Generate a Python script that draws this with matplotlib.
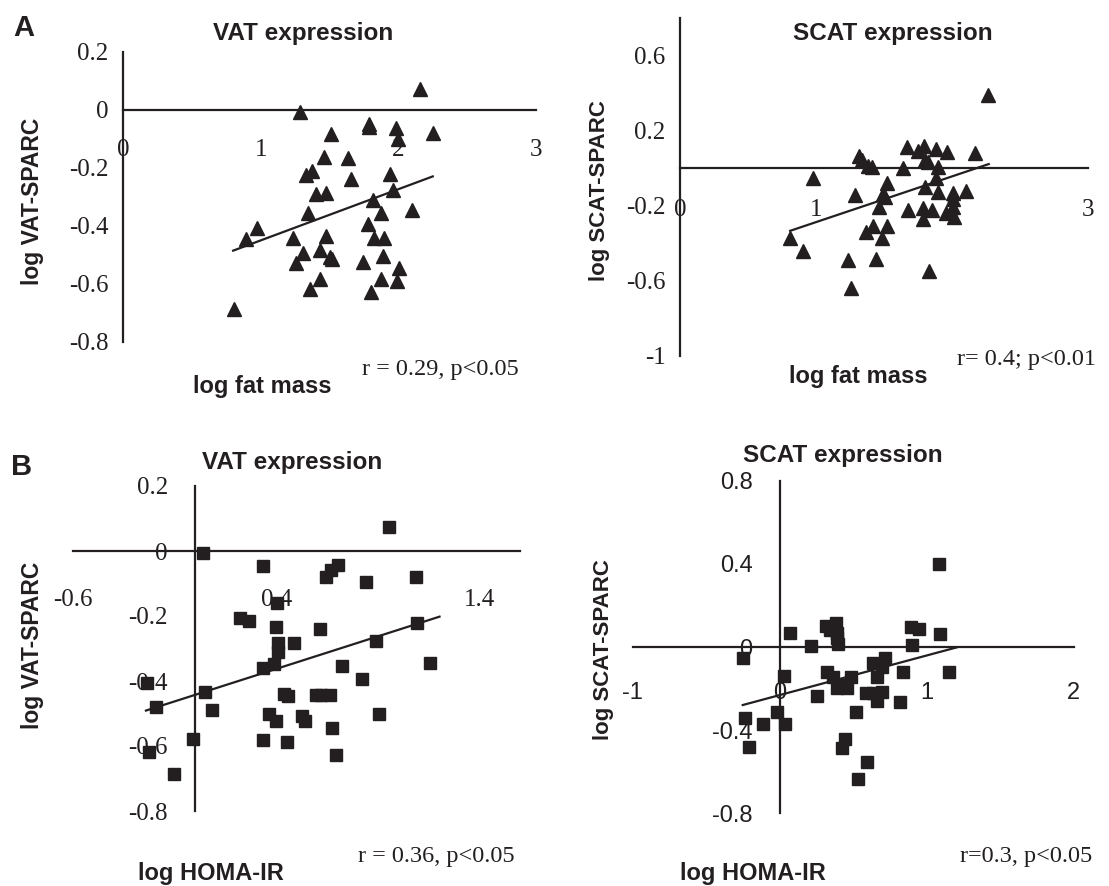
import matplotlib
matplotlib.use('Agg')
import matplotlib.pyplot as plt

INK = '#231f20'
W, H = 1109, 886

# A: log fat mass vs VAT-SPARC
vat_fat_x = [2.157, 1.283, 1.785, 1.785, 1.983, 1.512, 2.249, 2.0, 1.457, 1.635, 1.374, 1.326,
             1.942, 1.657, 1.959, 1.403, 1.476, 1.819, 2.097, 1.341, 1.874, 0.973, 0.896, 1.778,
             1.234, 1.476, 1.826, 1.894, 1.307, 1.428, 1.5, 1.517, 1.254, 1.746, 1.891, 2.007,
             1.428, 1.874, 1.988, 1.360, 1.802, 0.809]
vat_fat_y = [0.072, -0.008, -0.048, -0.057, -0.062, -0.083, -0.081, -0.101, -0.163, -0.167, -0.209,
             -0.224, -0.221, -0.239, -0.275, -0.288, -0.285, -0.310, -0.345, -0.354, -0.356, -0.408,
             -0.445, -0.393, -0.440, -0.436, -0.442, -0.442, -0.492, -0.482, -0.506, -0.515, -0.526,
             -0.523, -0.504, -0.546, -0.583, -0.583, -0.589, -0.618, -0.629, -0.687]
vat_fat_trend_x = [0.80, 2.25]
vat_fat_trend_y = [-0.485, -0.229]

# A: log fat mass vs SCAT-SPARC
scat_fat_x = [2.262, 1.667, 1.794, 1.752, 1.882, 1.966, 2.169, 1.319, 1.336, 1.385, 1.409, 1.642,
              1.801, 1.826, 1.9, 0.975, 1.882, 1.52, 1.804, 1.287, 1.490, 1.507, 1.9, 2.01, 2.103,
              2.005, 1.463, 1.674, 1.789, 1.855, 1.956, 2.01, 2.015, 1.789, 1.421, 1.525, 1.365,
              1.488, 0.809, 0.902, 1.238, 1.439, 1.833, 1.255]
scat_fat_y = [0.39, 0.11, 0.118, 0.092, 0.099, 0.087, 0.082, 0.064, 0.042, 0.01, 0.005, -0.002,
              0.042, 0.033, 0.005, -0.056, -0.056, -0.082, -0.104, -0.145, -0.138, -0.156, -0.129,
              -0.135, -0.125, -0.163, -0.207, -0.225, -0.216, -0.225, -0.239, -0.207, -0.261,
              -0.273, -0.311, -0.311, -0.341, -0.373, -0.371, -0.442, -0.489, -0.483, -0.549, -0.639]
scat_fat_trend_x = [0.81, 2.27]
scat_fat_trend_y = [-0.335, 0.021]

# B: log HOMA-IR vs VAT-SPARC
vat_homa_x = [0.957, 0.041, 0.337, 0.706, 0.670, 0.645, 1.089, 0.842, 0.404, 0.223, 0.264, 0.399,
              0.617, 1.094, 0.407, 0.489, 0.410, 0.892, 0.333, 0.388, 0.723, 1.158, 0.823, -0.238,
              0.049, 0.440, 0.456, 0.596, 0.621, 0.667, -0.192, 0.082, 0.366, 0.399, 0.525, 0.542,
              0.908, 0.673, -0.007, 0.333, 0.452, -0.225, 0.695, -0.102]
vat_homa_y = [0.073, -0.007, -0.045, -0.044, -0.058, -0.081, -0.080, -0.096, -0.159, -0.207, -0.215,
              -0.235, -0.240, -0.221, -0.284, -0.282, -0.310, -0.276, -0.361, -0.348, -0.353, -0.344,
              -0.394, -0.407, -0.433, -0.440, -0.445, -0.443, -0.443, -0.443, -0.481, -0.489, -0.503,
              -0.522, -0.509, -0.524, -0.502, -0.544, -0.579, -0.582, -0.587, -0.617, -0.628, -0.686]
vat_homa_trend_x = [-0.241, 1.204]
vat_homa_trend_y = [-0.491, -0.202]

# B: log HOMA-IR vs SCAT-SPARC
scat_homa_x = [1.087, 0.071, 0.314, 0.384, 0.344, 0.388, 0.392, 0.40, 0.214, 0.892, 0.951, 1.092,
               0.903, -0.250, 0.718, 0.638, 0.695, 0.661, 0.838, 1.155, 0.031, 0.321, 0.366, 0.484,
               0.412, 0.457, 0.389, 0.253, 0.588, 0.638, 0.695, 0.665, 0.820, 0.518, -0.015, -0.235,
               -0.114, 0.037, -0.205, 0.446, 0.427, 0.593, 0.536]
scat_homa_y = [0.397, 0.069, 0.102, 0.114, 0.083, 0.066, 0.042, 0.014, 0.005, 0.095, 0.087, 0.063,
               0.010, -0.054, -0.054, -0.078, -0.095, -0.143, -0.122, -0.119, -0.138, -0.119, -0.143,
               -0.143, -0.183, -0.199, -0.199, -0.236, -0.223, -0.223, -0.215, -0.258, -0.266, -0.311,
               -0.311, -0.343, -0.372, -0.371, -0.479, -0.444, -0.487, -0.551, -0.636]
scat_homa_trend_x = [-0.250, 1.205]
scat_homa_trend_y = [-0.279, -0.002]

SERIF = 'Liberation Serif'
SANS = 'Liberation Sans'

fig = plt.figure(figsize=(W / 100, H / 100), dpi=100)


def make_ax(px0, px1, py_top, py_bot):
    return fig.add_axes([px0 / W, 1 - py_bot / H, (px1 - px0) / W, (py_bot - py_top) / H])


def style(ax, xlim, ylim, xt, xtl, yt, ytl, xpad, ypad, tfont, tsize):
    ax.set_xlim(*xlim)
    ax.set_ylim(*ylim)
    ax.patch.set_visible(False)
    for s in ['top', 'right']:
        ax.spines[s].set_visible(False)
    for s in ['left', 'bottom']:
        ax.spines[s].set_position(('data', 0))
        ax.spines[s].set_linewidth(1.6)
        ax.spines[s].set_color(INK)
    ax.set_xticks(xt)
    ax.set_xticklabels(xtl, fontfamily=tfont, fontsize=tsize, color=INK)
    ax.set_yticks(yt)
    ax.set_yticklabels(ytl, fontfamily=tfont, fontsize=tsize, color=INK)
    ax.tick_params(axis='x', length=0, pad=xpad)
    ax.tick_params(axis='y', length=0, pad=ypad)


def draw(ax, x, y, tx, ty, marker, ms):
    ax.plot(x, y, linestyle='none', marker=marker, ms=ms, color=INK, clip_on=False, zorder=3)
    ax.plot(tx, ty, color=INK, lw=1.6, clip_on=False, zorder=2)


def ftext(px, py, s, **kw):
    fig.text(px / W, 1 - py / H, s, **kw)


# Panel A left
ax1 = make_ax(123, 536, 52, 342)
style(ax1, (0, 3), (-0.8, 0.2), [0, 1, 2, 3], ['0', '1', '2', '3'],
      [0.2, 0, -0.2, -0.4, -0.6, -0.8], ['0.2', '0', '-0.2', '-0.4', '-0.6', '-0.8'],
      21, 10.5, SERIF, 18)
draw(ax1, vat_fat_x, vat_fat_y, vat_fat_trend_x, vat_fat_trend_y, '^', 9.5)

# Panel A right
ax2 = make_ax(680, 1088, 18, 355.5)
style(ax2, (0, 3), (-1, 0.8), [0, 1, 2, 3], ['0', '1', '2', '3'],
      [0.6, 0.2, -0.2, -0.6, -1], ['0.6', '0.2', '-0.2', '-0.6', '-1'],
      22.5, 10.5, SERIF, 18)
draw(ax2, scat_fat_x, scat_fat_y, scat_fat_trend_x, scat_fat_trend_y, '^', 9.5)

# Panel B left
ax3 = make_ax(73, 520, 486, 811)
style(ax3, (-0.6, 1.6), (-0.8, 0.2), [-0.6, 0.4, 1.4], ['-0.6', '0.4', '1.4'],
      [0.2, 0, -0.2, -0.4, -0.6, -0.8], ['0.2', '0', '-0.2', '-0.4', '-0.6', '-0.8'],
      27.5, 19.5, SERIF, 18)
draw(ax3, vat_homa_x, vat_homa_y, vat_homa_trend_x, vat_homa_trend_y, 's', 9)

# Panel B right
ax4 = make_ax(632.5, 1073.5, 480.6, 813.4)
style(ax4, (-1, 2), (-0.8, 0.8), [-1, 0, 1, 2], ['-1', '0', '1', '2'],
      [0.8, 0.4, 0, -0.4, -0.8], ['0.8', '0.4', '0', '-0.4', '-0.8'],
      25, 19.5, SANS, 17)
draw(ax4, scat_homa_x, scat_homa_y, scat_homa_trend_x, scat_homa_trend_y, 's', 9)

bold = dict(fontfamily=SANS, fontweight='bold', color=INK)
serif = dict(fontfamily=SERIF, color=INK, fontsize=17.5)

ftext(24, 36, 'A', fontsize=21, ha='center', va='baseline', **bold)
ftext(22, 475, 'B', fontsize=21, ha='center', va='baseline', **bold)

ftext(303, 40, 'VAT expression', fontsize=17.5, ha='center', va='baseline', **bold)
ftext(893, 40, 'SCAT expression', fontsize=17.5, ha='center', va='baseline', **bold)
ftext(292, 469, 'VAT expression', fontsize=17.5, ha='center', va='baseline', **bold)
ftext(843, 462, 'SCAT expression', fontsize=17.5, ha='center', va='baseline', **bold)

ftext(33, 201, 'log VAT-SPARC', fontsize=16.5, rotation=90, ha='center', va='center', **bold)
ftext(600, 191, 'log SCAT-SPARC', fontsize=16, rotation=90, ha='center', va='center', **bold)
ftext(33, 645, 'log VAT-SPARC', fontsize=16.5, rotation=90, ha='center', va='center', **bold)
ftext(604, 650, 'log SCAT-SPARC', fontsize=16, rotation=90, ha='center', va='center', **bold)

ftext(262, 393, 'log fat mass', fontsize=17, ha='center', va='baseline', **bold)
ftext(858, 383, 'log fat mass', fontsize=17, ha='center', va='baseline', **bold)
ftext(211, 880, 'log HOMA-IR', fontsize=17, ha='center', va='baseline', **bold)
ftext(753, 880, 'log HOMA-IR', fontsize=17, ha='center', va='baseline', **bold)

ftext(362, 375, 'r = 0.29, p<0.05', ha='left', va='baseline', **serif)
ftext(957, 365, 'r= 0.4; p<0.01', ha='left', va='baseline', **serif)
ftext(358, 862, 'r = 0.36, p<0.05', ha='left', va='baseline', **serif)
ftext(960, 862, 'r=0.3, p<0.05', ha='left', va='baseline', **serif)

fig.savefig('out.png', dpi=100)
